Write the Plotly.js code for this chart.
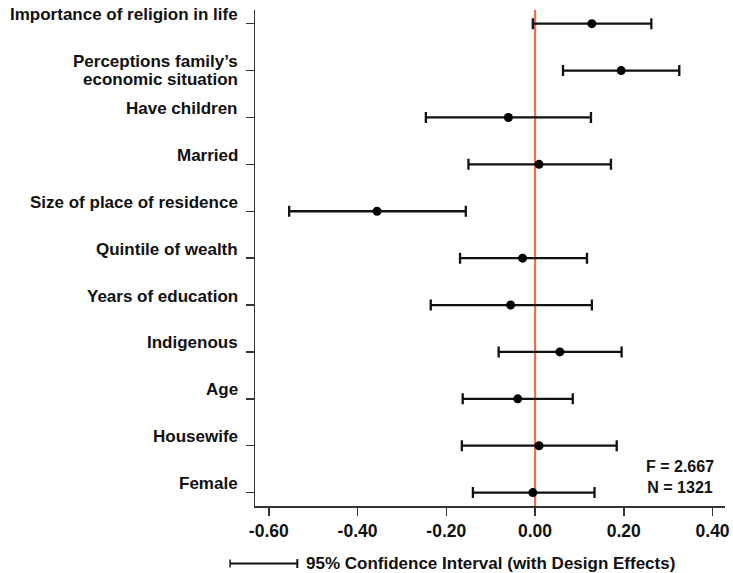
<!DOCTYPE html>
<html>
<head>
<meta charset="utf-8">
<script src="https://cdn.plot.ly/plotly-3.0.1.min.js"></script>
<style>
  html, body { margin: 0; padding: 0; background: #fff; }
  #chart { width: 733px; height: 573px; }
</style>
</head>
<body>
<div id="chart"></div>
<script>
// Predictors, listed bottom to top (index 0 sits on the lowest row)
const predictors = [
  "Female",
  "Housewife",
  "Age",
  "Indigenous",
  "Years of education",
  "Quintile of wealth",
  "Size of place of residence",
  "Married",
  "Have children",
  "Perceptions family\u2019s\neconomic situation",
  "Importance of religion in life"
];

// Point estimates and 95% confidence bounds (with design effects)
const estimate = [-0.005, 0.009, -0.039, 0.056, -0.055, -0.028, -0.356, 0.009, -0.060, 0.194, 0.128];
const lowerCI  = [-0.140, -0.165, -0.163, -0.082, -0.235, -0.169, -0.554, -0.150, -0.246, 0.063, -0.005];
const upperCI  = [0.134, 0.184, 0.085, 0.195, 0.128, 0.117, -0.156, 0.171, 0.126, 0.325, 0.262];

// Axis ticks
const xTickValues = [-0.6, -0.4, -0.2, 0.0, 0.2, 0.4];
const xTickLabels = ["-0.60", "-0.40", "-0.20", "0.00", "0.20", "0.40"];

// Model statistics
const statLines = ["F = 2.667", "N = 1321"];
const legendLabel = "95% Confidence Interval (with Design Effects)";

const FONT = "Liberation Sans, Arial, Helvetica, sans-serif";
const rows = predictors.map((_, i) => i);

const trace = {
  type: "scatter",
  mode: "markers",
  x: estimate,
  y: rows,
  marker: { color: "#000", size: 9 },
  error_x: {
    type: "data",
    symmetric: false,
    array: upperCI.map((u, i) => u - estimate[i]),
    arrayminus: estimate.map((e, i) => e - lowerCI[i]),
    color: "#111",
    thickness: 2.3,
    width: 5.5
  },
  hoverinfo: "skip",
  showlegend: false
};

// Row labels drawn as annotations so each line can sit just above its tick
const labelAnnotations = [];
predictors.forEach((label, i) => {
  const lines = label.split("\n");
  if (lines.length === 1) {
    labelAnnotations.push({
      xref: "paper", yref: "y", x: -0.032, y: i, xanchor: "right", yanchor: "middle",
      text: lines[0], showarrow: false, yshift: 9,
      font: { family: FONT, size: 17, weight: "bold", color: "#111" }
    });
  } else {
    lines.forEach((ln, k) => {
      labelAnnotations.push({
        xref: "paper", yref: "y", x: -0.032, y: i, xanchor: "right", yanchor: "middle",
        text: ln, showarrow: false, yshift: 9 - k * 17.5,
        font: { family: FONT, size: 17, weight: "bold", color: "#111" }
      });
    });
  }
});

// Model statistics stacked in one centred block
const statAnnotation = {
  xref: "paper", yref: "paper", x: 0.904, y: 0.059,
  xanchor: "center", yanchor: "middle", align: "center",
  text: statLines.join("<br>"), showarrow: false,
  font: { family: FONT, size: 16, weight: "bold", color: "#111" }
};

const legendAnnotation = {
  xref: "paper", yref: "paper", x: 0.104, y: -0.116, xanchor: "left", yanchor: "middle",
  text: legendLabel, showarrow: false,
  font: { family: FONT, size: 17, weight: "bold", color: "#111" }
};

const layout = {
  width: 733,
  height: 573,
  margin: { l: 255, r: 8, t: 10, b: 67 },
  paper_bgcolor: "#fff",
  plot_bgcolor: "#fff",
  font: { family: FONT, size: 17, color: "#111" },
  xaxis: {
    range: [-0.631, 0.428],
    tickvals: xTickValues,
    ticktext: xTickLabels,
    tickfont: { family: FONT, size: 17.5, weight: "bold", color: "#111" },
    ticks: "outside", ticklen: 8, tickwidth: 1.5, tickcolor: "#333",
    showline: true, linecolor: "#333", linewidth: 1.5,
    showgrid: false, zeroline: false, fixedrange: true
  },
  yaxis: {
    range: [-0.286, 10.292],
    tickvals: rows,
    showticklabels: false,
    ticks: "outside", ticklen: 8, tickwidth: 1.5, tickcolor: "#333",
    showline: true, linecolor: "#333", linewidth: 1.5,
    showgrid: false, zeroline: false, fixedrange: true
  },
  shapes: [
    // reference line at zero
    { type: "line", xref: "x", yref: "paper", x0: 0, x1: 0, y0: 0, y1: 1,
      line: { color: "#EE6E48", width: 2.2 }, layer: "below" },
    // legend key: capped interval
    { type: "line", xref: "paper", yref: "paper", x0: -0.053, x1: 0.090, y0: -0.116, y1: -0.116,
      line: { color: "#111", width: 2 } },
    { type: "line", xref: "paper", yref: "paper", x0: -0.053, x1: -0.053, y0: -0.108, y1: -0.124,
      line: { color: "#111", width: 1.5 } },
    { type: "line", xref: "paper", yref: "paper", x0: 0.090, x1: 0.090, y0: -0.107, y1: -0.125,
      line: { color: "#111", width: 2 } }
  ],
  annotations: labelAnnotations.concat([statAnnotation, legendAnnotation]),
  showlegend: false
};

Plotly.newPlot("chart", [trace], layout, { displayModeBar: false, staticPlot: true });
</script>
</body>
</html>
